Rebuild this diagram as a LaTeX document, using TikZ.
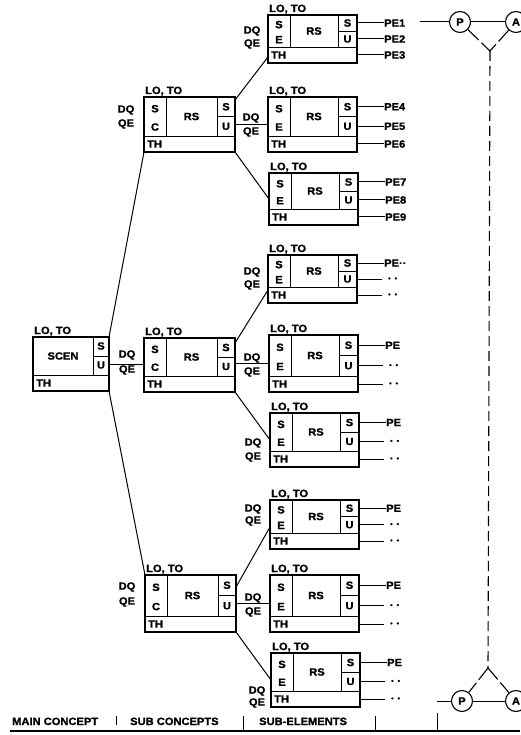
\documentclass[tikz,border=0pt]{standalone}
\usepackage{fontspec}
\setsansfont{Liberation Sans}[FakeStretch=1.06,FakeBold=1.2]
\usetikzlibrary{calc}
\tikzset{
  outerbox/.style={draw, line width=1.5pt, inner sep=0pt, outer sep=0pt},
  innerline/.style={line width=0.9pt},
  txt/.style={font=\sffamily\bfseries\fontsize{10.5}{11}\selectfont, inner sep=0pt},
  dots/.style={font=\sffamily\bfseries\fontsize{6.5}{7}\selectfont, inner sep=0pt},
  conn/.style={line width=1pt},
  circ/.style={draw, circle, line width=1.1pt, minimum size=21pt, inner sep=0pt,
    font=\sffamily\bfseries\fontsize{10.5}{11}\selectfont},
  dashv/.style={line width=1.1pt, dash pattern=on 10pt off 5pt},
  dashd/.style={line width=1.1pt, dash pattern=on 15pt off 4pt}
}
% #1 name, #2 left, #3 top, #4 width, #5 height, #6 second left letter, #7 middle text, #8 right column width
\newcommand\drawunit[8]{%
\begin{scope}[shift={(#2,#3)}]
  \pgfmathsetmacro\myhh{#5-16}
  \pgfmathsetmacro\myrc{#4-#8}
  \node[outerbox, minimum width=#4pt, minimum height=#5pt, anchor=north west] (#1) at (0,0) {};
  \draw[innerline] (0,\myhh) -- (#4,\myhh);
  \draw[innerline] (\myrc,0) -- (\myrc,\myhh);
  \draw[innerline] (\myrc,\myhh/2) -- (#4,\myhh/2);
  \draw[innerline] (22,0) -- (22,\myhh);
  \node[txt] at (11,0.3*\myhh) {S};
  \node[txt] at (11,0.77*\myhh) {#6};
  \node[txt] at ({(22+\myrc)/2},\myhh/2) {#7};
  \node[txt] at ({(\myrc+#4)/2},\myhh/4) {S};
  \node[txt] at ({(\myrc+#4)/2},3*\myhh/4) {U};
  \node[txt, anchor=west] at (3,\myhh+8) {TH};
  \node[txt, anchor=base west] at (1,-3) {LO, TO};
  \coordinate (#1-s) at (#4,\myhh/4);
  \coordinate (#1-u) at (#4,3*\myhh/4);
  \coordinate (#1-t) at (#4,\myhh+8);
\end{scope}}
% PE labels, numbered
\newcommand\pethree[4]{%
  \node[txt, anchor=west] (#1-ls) at ($(#1-s)+(27,0)$) {#2};
  \node[txt, anchor=west] (#1-lu) at ($(#1-u)+(27,0)$) {#3};
  \node[txt, anchor=west] (#1-lt) at ($(#1-t)+(27,0)$) {#4};
  \draw[conn] (#1-s) -- (#1-ls.west);
  \draw[conn] (#1-u) -- (#1-lu.west);
  \draw[conn] (#1-t) -- (#1-lt.west);
}
% PE label and dotted continuations
\newcommand\pedots[2]{%
  \node[txt, anchor=west] (#1-ls) at ($(#1-s)+(27,0)$) {#2};
  \node[dots, anchor=west] (#1-lu) at ($(#1-u)+(31,0)$) {•\hspace{4pt}•};
  \node[dots, anchor=west] (#1-lt) at ($(#1-t)+(31,0)$) {•\hspace{4pt}•};
  \draw[conn] (#1-s) -- (#1-ls.west);
  \draw[conn] (#1-u) -- ($(#1-lu.west)+(-6,0)$);
  \draw[conn] (#1-t) -- ($(#1-lt.west)+(-6,0)$);
}
\begin{document}
\begin{tikzpicture}[x=1pt,y=-1pt]
\useasboundingbox (0,0) rectangle (520,735);

% ---------- main concept ----------
\begin{scope}[shift={(33,337)}]
  \node[outerbox, minimum width=76pt, minimum height=54pt, anchor=north west] (scen) at (0,0) {};
  \draw[innerline] (0,38) -- (76,38);
  \draw[innerline] (60,0) -- (60,38);
  \draw[innerline] (60,19) -- (76,19);
  \node[txt] at (30,19) {SCEN};
  \node[txt] at (68,9) {S};
  \node[txt] at (68,28) {U};
  \node[txt, anchor=west] at (3,46) {TH};
  \node[txt, anchor=base west] at (1,-3) {LO, TO};
\end{scope}

% ---------- sub concepts ----------
\drawunit{sc1}{144}{97}{91}{55}{C}{RS}{18}
\drawunit{sc2}{144}{338}{91}{54}{C}{RS}{18}
\drawunit{sc3}{145}{575}{91}{57}{C}{RS}{18}

% ---------- sub elements ----------
\drawunit{e1}{268}{15}{89}{48}{E}{RS}{19}
\drawunit{e2}{268}{97}{89}{55}{E}{RS}{19}
\drawunit{e3}{269}{173}{89}{52}{E}{RS}{19}
\drawunit{e4}{268}{255}{89}{48}{E}{RS}{19}
\drawunit{e5}{269}{335}{89}{57}{E}{RS}{19}
\drawunit{e6}{270}{413}{89}{54}{E}{RS}{19}
\drawunit{e7}{270}{500}{89}{49}{E}{RS}{19}
\drawunit{e8}{270}{575}{89}{57}{E}{RS}{19}
\drawunit{e9}{271}{653}{89}{54}{E}{RS}{19}

% ---------- connectors main -> sub ----------
\draw[conn] (scen.north east) -- (sc1.south west);
\draw[conn] (scen.south east) -- (sc3.north west);
\draw[conn] (scen.east) -- (scen.east -| sc2.west);
\node[txt] at (127,355) {DQ};
\node[txt] at (127,370) {QE};
\node[txt] at (126,110) {DQ};
\node[txt] at (126,124) {QE};
\node[txt] at (127,587) {DQ};
\node[txt] at (127,602) {QE};

% ---------- connectors sub -> elements ----------
\draw[conn] ($(sc1.north east)+(0,3)$) -- ($(e1.south west)+(0,-6)$);
\draw[conn] (sc1.east |- e2.west) -- (e2.west);
\draw[conn] (sc1.south east) -- (e3.west);
\draw[conn] ($(sc2.north east)+(0,5)$) -- ($(e4.south west)+(0,-13)$);
\draw[conn] (sc2.east |- e5.west) -- (e5.west);
\draw[conn] (sc2.south east) -- (e6.west);
\draw[conn] ($(sc3.north east)+(0,12)$) -- ($(e7.south west)+(0,-22)$);
\draw[conn] (sc3.east |- e8.west) -- (e8.west);
\draw[conn] (sc3.south east) -- (e9.west);

\node[txt] at (252,31) {DQ};
\node[txt] at (252,44) {QE};
\node[txt] at (251,118) {DQ};
\node[txt] at (251,132) {QE};
\node[txt] at (252,272) {DQ};
\node[txt] at (252,285) {QE};
\node[txt] at (252,358) {DQ};
\node[txt] at (252,372) {QE};
\node[txt] at (253,443) {DQ};
\node[txt] at (253,457) {QE};
\node[txt] at (253,509) {DQ};
\node[txt] at (253,521) {QE};
\node[txt] at (253,598) {DQ};
\node[txt] at (253,612) {QE};
\node[txt] at (257,691) {DQ};
\node[txt] at (257,703) {QE};

% ---------- PE labels ----------
\pethree{e1}{PE1}{PE2}{PE3}
\pethree{e2}{PE4}{PE5}{PE6}
\pethree{e3}{PE7}{PE8}{PE9}
\pedots{e4}{PE··}
\pedots{e5}{PE}
\pedots{e6}{PE}
\pedots{e7}{PE}
\pedots{e8}{PE}
\pedots{e9}{PE}

% ---------- P / A structure ----------
\node[circ] (pt) at (460,22) {P};
\node[circ] (at) at (516,22) {A};
\coordinate (lt) at (420,22);
\coordinate (jt) at (490,51);
\draw[conn] (lt) -- (pt);
\draw[conn] (pt) -- (at);
\draw[dashd] (pt) -- (jt);
\draw[dashd] (at) -- (jt);

\node[circ] (pb) at (462,701) {P};
\node[circ] (ab) at (516,701) {A};
\coordinate (lb) at (437,701);
\coordinate (jb) at (488,668);
\draw[conn] (lb) -- (pb);
\draw[conn] (pb) -- (ab);
\draw[dashd] (jb) -- (pb);
\draw[dashd] (jb) -- (ab);

\draw[dashv] (jt) -- (jb);

% ---------- bottom ruler ----------
\node[txt, anchor=base west] at (12,725) {MAIN CONCEPT};
\node[txt, anchor=base west] at (130,725) {SUB CONCEPTS};
\node[txt, anchor=base west] at (259,725) {SUB-ELEMENTS};
\draw[line width=1pt] (116,716) -- (116,725);
\draw[line width=1pt] (243,716) -- (243,731);
\draw[line width=1pt] (375,716) -- (375,731);
\draw[line width=1pt] (437,713) -- (437,731);
\draw[line width=1.3pt] (10,731) -- (520,731);
\end{tikzpicture}
\end{document}
